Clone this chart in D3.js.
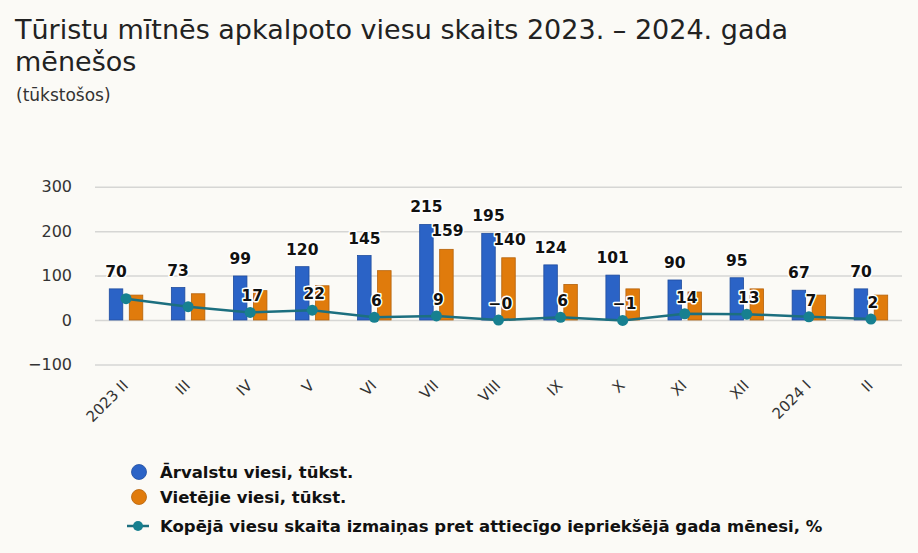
<!DOCTYPE html>
<html>
<head>
<meta charset="utf-8">
<script src="https://cdn.jsdelivr.net/npm/d3@7"></script>
<style>
  html, body { margin: 0; padding: 0; background: #fbfaf6; }
  svg { display: block; }
  text { font-family: "DejaVu Sans", sans-serif; }
</style>
</head>
<body>
<svg id="chart" width="918" height="553"></svg>
<script>
// ---- data ----
const categories = ["2023 II", "III", "IV", "V", "VI", "VII", "VIII", "IX", "X", "XI", "XII", "2024 I", "II"];
const foreignGuests = [70, 73, 99, 120, 145, 215, 195, 124, 101, 90, 95, 67, 70];
const localGuests = [56, 59, 66, 77, 111, 159, 140, 80, 70, 63, 70, 56, 56];
const totalChangePct = [48, 30, 17, 22, 6, 9, -0.3, 6, -1, 14, 13, 7, 2];
const yTicks = [-100, 0, 100, 200, 300];
// which data labels are visible in the original
const localLabelShown = [false, false, false, false, false, true, true, false, false, false, false, false, false];
const changeLabelShown = [false, false, true, true, true, true, true, true, true, true, true, true, true];
const seriesNames = ["Ārvalstu viesi, tūkst.", "Vietējie viesi, tūkst.", "Kopējā viesu skaita izmaiņas pret attiecīgo iepriekšējā gada mēnesi, %"];
const colors = { foreign: "#2b63c6", foreignStroke: "#1f4c9e", local: "#e07b0c", localStroke: "#b5620a", line: "#1c6f7f", marker: "#178090" };

const svg = d3.select("#chart");

// ---- titles ----
svg.append("text").attr("x", 15).attr("y", 39).attr("font-size", 27).attr("fill", "#222")
  .text("Tūristu mītnēs apkalpoto viesu skaits 2023. – 2024. gada");
svg.append("text").attr("x", 15).attr("y", 71).attr("font-size", 27).attr("fill", "#222")
  .text("mēnešos");
svg.append("text").attr("x", 16).attr("y", 101).attr("font-size", 17).attr("fill", "#333")
  .text("(tūkstošos)");

// ---- scales ----
const x = d3.scaleBand().domain(categories).range([95, 902]).paddingInner(0).paddingOuter(0);
const y = d3.scaleLinear().domain([-100, 300]).range([364.4, 186.7]);
const center = c => x(c) + x.bandwidth() / 2;
const barW = 13.5, barOff = 10;

// ---- grid + y axis ----
const yAxis = d3.axisLeft(y).tickValues(yTicks).tickSize(-(902 - 95)).tickPadding(23);
const gy = svg.append("g").attr("transform", "translate(95,0)").call(yAxis);
gy.select(".domain").remove();
gy.selectAll(".tick line").attr("stroke", "#d6d6d4").attr("stroke-width", 1.5);
gy.selectAll(".tick text").attr("font-size", 16).attr("fill", "#333").attr("font-family", "DejaVu Sans, sans-serif");

// ---- x axis labels ----
const xAxis = d3.axisBottom(x).tickSize(0).tickPadding(0);
const gx = svg.append("g").attr("transform", "translate(0,364.4)").call(xAxis);
gx.select(".domain").remove();
gx.selectAll(".tick text")
  .attr("font-size", 15).attr("fill", "#333").attr("font-family", "DejaVu Sans, sans-serif")
  .attr("text-anchor", "end").attr("dy", 0).attr("y", 0)
  .attr("transform", "translate(3,22) rotate(-45)");

// ---- bars ----
const idx = d3.range(categories.length);
svg.append("g").selectAll("rect").data(idx).join("rect")
  .attr("x", i => center(categories[i]) - barOff - barW / 2)
  .attr("y", i => y(foreignGuests[i]))
  .attr("width", barW)
  .attr("height", i => y(0) - y(foreignGuests[i]))
  .attr("fill", colors.foreign).attr("stroke", colors.foreignStroke).attr("stroke-width", 0.8);
svg.append("g").selectAll("rect").data(idx).join("rect")
  .attr("x", i => center(categories[i]) + barOff - barW / 2)
  .attr("y", i => y(localGuests[i]))
  .attr("width", barW)
  .attr("height", i => y(0) - y(localGuests[i]))
  .attr("fill", colors.local).attr("stroke", colors.localStroke).attr("stroke-width", 0.8);

// ---- line ----
const line = d3.line().x(i => center(categories[i])).y(i => y(totalChangePct[i]));
svg.append("path").datum(idx).attr("d", line)
  .attr("fill", "none").attr("stroke", colors.line).attr("stroke-width", 2.5);
svg.append("g").selectAll("circle").data(idx).join("circle")
  .attr("cx", i => center(categories[i])).attr("cy", i => y(totalChangePct[i]))
  .attr("r", 5.5).attr("fill", colors.marker);

// ---- data labels ----
const fmt = v => { const r = Math.round(v); return (v < 0 ? "−" : "") + Math.abs(r); };
const lbl = svg.append("g").attr("font-size", 15.5).attr("font-weight", "bold")
  .attr("text-anchor", "middle").attr("fill", "#111");
function addLabel(xp, yp) {
  return lbl.append("text").attr("x", xp).attr("y", yp)
    .attr("stroke", "#fff").attr("stroke-width", 3).attr("stroke-linejoin", "round")
    .attr("paint-order", "stroke");
}
idx.forEach(i => {
  addLabel(center(categories[i]) - barOff, y(foreignGuests[i]) - 12).text(fmt(foreignGuests[i]));
  if (localLabelShown[i]) addLabel(center(categories[i]) + barOff + 1, y(localGuests[i]) - 13).text(fmt(localGuests[i]));
  if (changeLabelShown[i]) addLabel(center(categories[i]) + 2, y(totalChangePct[i]) - 11).text(fmt(totalChangePct[i]));
});

// ---- legend ----
const lg = svg.append("g");
const legendY = [472, 497, 526];
lg.append("circle").attr("cx", 139).attr("cy", legendY[0]).attr("r", 7.5).attr("fill", colors.foreign).attr("stroke", colors.foreignStroke).attr("stroke-width", 0.8);
lg.append("circle").attr("cx", 139).attr("cy", legendY[1]).attr("r", 7.5).attr("fill", colors.local).attr("stroke", colors.localStroke).attr("stroke-width", 0.8);
lg.append("line").attr("x1", 127).attr("x2", 149).attr("y1", legendY[2]).attr("y2", legendY[2]).attr("stroke", colors.line).attr("stroke-width", 2.5);
lg.append("circle").attr("cx", 138).attr("cy", legendY[2]).attr("r", 5).attr("fill", colors.marker);
seriesNames.forEach((n, k) => {
  lg.append("text").attr("x", 160).attr("y", legendY[k] + 6)
    .attr("font-size", 16.5).attr("font-weight", "bold").attr("fill", "#111")
    .attr("font-family", "DejaVu Sans, sans-serif")
    .text(n);
});
</script>
</body>
</html>
